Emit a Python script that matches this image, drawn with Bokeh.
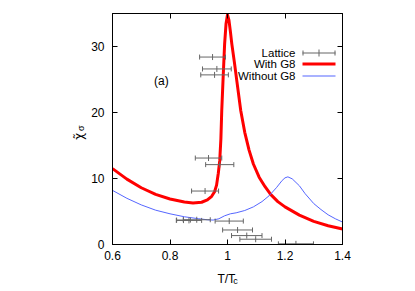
import numpy as np
from bokeh.plotting import figure
from bokeh.models import Range1d, LinearAxis, FixedTicker, Label, BoxAnnotation, ColumnDataSource
from bokeh.embed import file_html
from bokeh.resources import INLINE

# ---- data ----
with_g8_T = [0.60, 0.65, 0.70, 0.75, 0.80, 0.85, 0.88, 0.91, 0.93, 0.945, 0.955, 0.962, 0.968,
             0.973, 0.977, 0.980, 0.985, 0.990, 0.995, 1.000, 1.005, 1.010, 1.015, 1.024, 1.033,
             1.046, 1.060, 1.075, 1.090, 1.110, 1.130, 1.150, 1.175, 1.200, 1.250, 1.300, 1.350, 1.400]
with_g8_chi = [11.5, 9.9, 8.6, 7.6, 6.9, 6.45, 6.3, 6.4, 6.75, 7.3, 8.0, 9.0, 10.8,
               12.7, 16.0, 20.3, 25.5, 30.4, 33.5, 34.8, 34.0, 32.3, 30.4, 27.6, 24.6,
               20.3, 17.0, 14.3, 12.2, 10.2, 8.8, 7.6, 6.5, 5.7, 4.45, 3.5, 2.85, 2.35]

without_g8_T = [0.60, 0.65, 0.70, 0.75, 0.80, 0.85, 0.90, 0.93, 0.95, 0.97, 0.99, 1.01, 1.03,
                1.06, 1.09, 1.12, 1.145, 1.17, 1.19, 1.20, 1.21, 1.225, 1.25, 1.27, 1.30,
                1.325, 1.35, 1.375, 1.40]
without_g8_chi = [8.2, 7.0, 6.0, 5.2, 4.65, 4.2, 3.9, 3.75, 3.7, 3.9, 4.35, 4.65, 4.8,
                  5.15, 5.7, 6.5, 7.4, 8.6, 9.7, 10.1, 10.25, 9.95, 8.9, 7.7, 6.2,
                  5.3, 4.5, 3.9, 3.4]

lattice_T = [0.948, 0.963, 0.955, 0.934, 0.973, 0.922, 0.847, 0.866, 0.893, 1.006,
             1.035, 1.067, 1.098, 1.238]
lattice_chi = [28.4, 26.6, 25.7, 13.1, 12.1, 8.1, 3.7, 3.65, 3.75, 3.55,
               2.2, 1.35, 0.8, 0.1]
lattice_Terr = [0.045, 0.050, 0.048, 0.046, 0.049, 0.047, 0.024, 0.044, 0.047, 0.049,
                0.052, 0.053, 0.055, 0.061]

x_ticks = [0.6, 0.8, 1.0, 1.2, 1.4]
x_tick_labels = {0.6: "0.6", 0.8: "0.8", 1.0: "1", 1.2: "1.2", 1.4: "1.4"}
y_ticks = [0, 10, 20, 30]

FONT = "Liberation Sans"
RED = "#ff0000"
BLUE = "#5566ff"
GRAY = "#666666"

p = figure(frame_width=230, frame_height=231, width=402, height=283,
           x_range=Range1d(0.6, 1.4), y_range=Range1d(0, 35),
           output_backend="svg", toolbar_location=None,
           min_border_left=112, min_border_right=60, min_border_top=13, min_border_bottom=20)
p.grid.visible = False
p.outline_line_color = "black"
p.outline_line_width = 1
p.background_fill_color = "white"
p.border_fill_color = "white"

def style_axis(ax):
    ax.major_tick_in = 5
    ax.major_tick_out = 0
    ax.minor_tick_line_color = None
    ax.axis_line_color = "black"
    ax.major_tick_line_color = "black"
    ax.major_label_text_font = FONT
    ax.major_label_text_color = "black"
    ax.major_label_text_font_size = "12px"

p.xaxis.ticker = FixedTicker(ticks=x_ticks)
p.xaxis.major_label_overrides = x_tick_labels
p.yaxis.ticker = FixedTicker(ticks=y_ticks)
style_axis(p.xaxis[0])
style_axis(p.yaxis[0])
p.xaxis.major_label_standoff = 6
p.yaxis.major_label_standoff = 8

# mirrored tick axes (top and right) without labels
top = LinearAxis(ticker=FixedTicker(ticks=x_ticks))
style_axis(top)
top.major_label_text_font_size = "1px"
top.major_label_standoff = 0
top.major_label_overrides = {t: "" for t in x_ticks}
p.add_layout(top, "above")
right = LinearAxis(ticker=FixedTicker(ticks=y_ticks))
style_axis(right)
right.major_label_text_font_size = "1px"
right.major_label_standoff = 0
right.major_label_overrides = {t: "" for t in y_ticks}
p.add_layout(right, "right")

# curves
p.line(with_g8_T, with_g8_chi, line_color=RED, line_width=3, line_join="round")
p.line(without_g8_T, without_g8_chi, line_color=BLUE, line_width=1)

# lattice points with horizontal error bars
lt = np.array(lattice_T)
le = np.array(lattice_Terr)
src = ColumnDataSource(dict(x=lt, y=lattice_chi, lo=lt - le, hi=lt + le))
p.segment(x0="lo", y0="y", x1="hi", y1="y", source=src, line_color=GRAY, line_width=1)
p.scatter(x="lo", y="y", source=src, marker="dash", angle=np.pi / 2, size=5, line_color=GRAY, line_width=1)
p.scatter(x="hi", y="y", source=src, marker="dash", angle=np.pi / 2, size=5, line_color=GRAY, line_width=1)
p.scatter(x="x", y="y", source=src, marker="dash", angle=np.pi / 2, size=6, line_color=GRAY, line_width=1)

# text
p.add_layout(Label(x=0.77, y=24.7, text="(a)", text_align="center", text_baseline="middle",
                   text_font=FONT, text_font_size="12px", text_color="black"))

# axis titles, placed in the side panels (positioned through the plot's scales)
p.add_layout(Label(x=0.965, y=-5.2, text="T/T",
                   text_align="left", text_baseline="alphabetic",
                   text_font=FONT, text_font_size="12px", text_color="black"), "below")
p.add_layout(Label(x=1.020, y=-5.55, text="c",
                   text_align="left", text_baseline="alphabetic",
                   text_font=FONT, text_font_size="9px", text_color="black"), "below")
p.add_layout(Label(x=0.482, y=16.4, text="χ\u0303",
                   angle=np.pi / 2, text_align="center", text_baseline="middle",
                   text_font="DejaVu Sans", text_font_size="12px", text_color="black"), "left")
p.add_layout(Label(x=0.489, y=17.2, text="σ",
                   angle=np.pi / 2, text_align="left", text_baseline="middle",
                   text_font=FONT, text_font_size="9px", text_color="black"), "left")

# custom key (text left of samples, as in the reference)
key_items = [("Lattice", 192), ("With G8", 180.5), ("Without G8", 169)]
for txt, yy in key_items:
    p.add_layout(Label(x=183, y=yy, x_units="screen", y_units="screen", text=txt,
                       text_align="right", text_baseline="middle",
                       text_font=FONT, text_font_size="11.5px", text_color="black"))

def sbox(l, r, b, t, color):
    return BoxAnnotation(left=l, right=r, bottom=b, top=t,
                         left_units="screen", right_units="screen",
                         bottom_units="screen", top_units="screen",
                         fill_color=color, fill_alpha=1.0, line_color=None)

p.add_layout(sbox(190, 223, 191, 192, GRAY))
p.add_layout(sbox(190, 191, 189, 194, GRAY))
p.add_layout(sbox(222, 223, 189, 194, GRAY))
p.add_layout(sbox(206, 207, 188, 195, GRAY))
p.add_layout(sbox(190, 223, 179, 182, RED))
p.add_layout(sbox(190, 223, 168, 169, BLUE))

open("out.html", "w").write(file_html(p, INLINE))
